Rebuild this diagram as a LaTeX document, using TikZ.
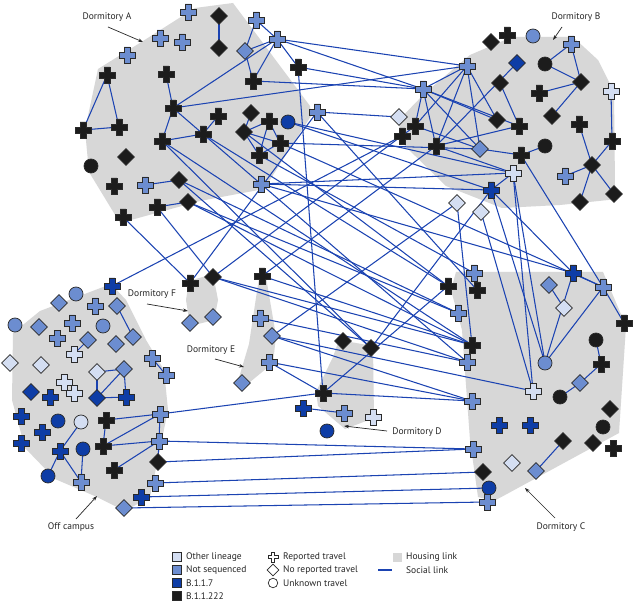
\documentclass[tikz,border=0pt]{standalone}
\usepackage{fontspec}
\setmainfont{PT Sans}
\usetikzlibrary{shapes.geometric,arrows.meta}
\definecolor{co}{HTML}{D4DEF2}
\definecolor{cn}{HTML}{6C8DD0}
\definecolor{cb}{HTML}{0E3DA6}
\definecolor{ck}{HTML}{1C1C1C}
\definecolor{outl}{HTML}{2A2A2A}
\definecolor{edgeblue}{HTML}{1B43B2}
\definecolor{housegray}{HTML}{D7D7D7}
\definecolor{txt}{HTML}{262626}
\pgfdeclarelayer{house}
\pgfdeclarelayer{edges}
\pgfsetlayers{house,edges,main}
\tikzset{
  hub/.style={inner sep=0pt,minimum size=1pt,draw=none},
  shp/.style={draw=outl,line width=0.7pt,line join=miter},
  dnode/.style={diamond,draw=outl,line width=0.7pt,inner sep=0pt,minimum size=17pt},
  cnode/.style={circle,draw=outl,line width=0.7pt,inner sep=0pt,minimum size=14pt},
  social/.style={draw=edgeblue,line width=1.05pt},
  house/.style={fill=housegray,draw=none},
  lbl/.style={font=\fontsize{9.5}{11}\selectfont,text=txt,inner sep=1pt},
  leg/.style={font=\fontsize{9.5}{11}\selectfont,text=txt,anchor=west,inner sep=1pt},
  arr/.style={-{Stealth[length=5pt,width=3.5pt]},line width=0.7pt,draw=black!85},
  legsq/.style={draw=outl,line width=0.7pt,minimum size=9pt,inner sep=0pt}
}
\newcommand\Pnode[3]{\node[hub] (#1) at (#2) {};
  \draw[shp,fill=#3,shift={(#2)}] (-2.9,-8) -- (2.9,-8) -- (2.9,-2.9) -- (8,-2.9) -- (8,2.9) -- (2.9,2.9) -- (2.9,8) -- (-2.9,8) -- (-2.9,2.9) -- (-8,2.9) -- (-8,-2.9) -- (-2.9,-2.9) -- cycle;}
\newcommand\Dnode[3]{\node[dnode,fill=#3] (#1) at (#2) {};}
\newcommand\Cnode[3]{\node[cnode,fill=#3] (#1) at (#2) {};}
\begin{document}
\begin{tikzpicture}[x=1pt,y=-1pt]
\useasboundingbox (0,0) rectangle (635,604);
% ---------------- housing links
\begin{pgfonlayer}{house}
\fill[white] (0,0) rectangle (635,604);
\fill[house] (143,41) -- (195,8) -- (233,3) -- (310,106) -- (311,116) -- (264,189) -- (200,201) -- (120,223) -- (89,172) -- (85,130) -- (98,69) -- cycle;
\fill[house] (398,121) -- (425,93) -- (470,55) -- (512,37) -- (573,37) -- (598,60) -- (614,92) -- (615,185) -- (618,199) -- (560,205) -- (502,208) -- (446,186) -- (405,146) -- cycle;
\fill[house] (456,272) -- (603,272) -- (626,326) -- (619,433) -- (494,501) -- (478,497) -- (470,440) -- (462,330) -- (451,290) -- cycle;
\fill[house] (13,333) -- (40,311) -- (111,284) -- (126,300) -- (146,340) -- (164,370) -- (168,410) -- (150,497) -- (125,511) -- (97,497) -- (55,479) -- (25,448) -- (12,400) -- cycle;
\fill[house] (189,281) -- (213,274) -- (218,300) -- (214,320) -- (190,326) -- (186,300) -- cycle;
\fill[house] (259,278) -- (266,277) -- (276,336) -- (273,363) -- (244,387) -- (238,381) -- (249,344) -- cycle;
\fill[house] (339,340) -- (373,346) -- (374,418) -- (345,429) -- (318,406) -- (316,392) -- (333,357) -- cycle;
\end{pgfonlayer}
% ---------------- Dormitory A
\Pnode{a1}{188,12}{cn}
\Pnode{a2}{160,38}{cn}
\Pnode{a3}{182,42}{cn}
\Pnode{a4}{127,55}{cn}
\Pnode{a5}{107,75}{ck}
\Pnode{a6}{166,74}{ck}
\Pnode{a7}{173,108}{ck}
\Pnode{a8}{83,130}{ck}
\Pnode{a9}{119,127}{ck}
\Pnode{a10}{162,141}{ck}
\Pnode{a11}{203,134}{ck}
\Pnode{a12}{218,116}{ck}
\Dnode{a13}{126,157}{ck}
\Cnode{a14}{91,166}{ck}
\Pnode{a15}{114,186}{ck}
\Pnode{a16}{145,185}{cn}
\Dnode{a17}{179,180}{ck}
\Pnode{a18}{157,207}{ck}
\Dnode{a19}{188,202}{ck}
\Pnode{a20}{123,217}{ck}
\Dnode{a21}{219,16}{ck}
\Dnode{a22}{219,48}{ck}
\Pnode{a23}{256,20}{cn}
\Pnode{a24}{277,39}{cn}
\Dnode{a25}{245,51}{cn}
\Pnode{a26}{298,67}{ck}
\Pnode{a27}{253,81}{ck}
\Dnode{a28}{251,113}{ck}
\Dnode{a29}{244,132}{ck}
\Pnode{a30}{269,121}{ck}
\Cnode{a31}{288,122}{cb}
\Pnode{a32}{280,143}{ck}
\Pnode{a33}{259,155}{ck}
\Pnode{a34}{261,184}{cn}
\Pnode{a35}{317,112}{cn}
% ---------------- Dormitory B
\Dnode{b1}{399,117}{co}
\Pnode{b2}{415,126}{ck}
\Pnode{b3}{402,136}{ck}
\Pnode{b4}{423,89}{cn}
\Pnode{b5}{467,66}{cn}
\Dnode{b6}{491,42}{ck}
\Pnode{b7}{507,35}{ck}
\Cnode{b8}{533,36}{cn}
\Pnode{b9}{571,44}{cn}
\Dnode{b10}{517,63}{cb}
\Cnode{b11}{545,64}{ck}
\Dnode{b12}{500,83}{ck}
\Dnode{b13}{581,82}{ck}
\Pnode{b14}{539,93}{ck}
\Pnode{b15}{611,91}{co}
\Dnode{b16}{552,116}{ck}
\Dnode{b17}{497,120}{ck}
\Pnode{b18}{519,126}{ck}
\Pnode{b19}{436,146}{ck}
\Dnode{b20}{480,149}{cn}
\Cnode{b21}{545,146}{ck}
\Pnode{b22}{521,155}{ck}
\Pnode{b23}{579,124}{ck}
\Pnode{b24}{612,141}{ck}
\Dnode{b25}{592,165}{ck}
\Pnode{b26}{513,173}{co}
\Pnode{b27}{565,176}{cn}
\Pnode{b28}{491,190}{cb}
\Dnode{b29}{457,203}{co}
\Dnode{b30}{481,212}{co}
\Dnode{b31}{580,202}{ck}
\Dnode{b32}{614,194}{ck}
% ---------------- Dormitory F
\Pnode{f1}{190,283}{ck}
\Dnode{f2}{213,277}{ck}
\Dnode{f3}{190,323}{cn}
\Dnode{f4}{213,317}{cn}
% ---------------- Dormitory E
\Pnode{e1}{262,276}{ck}
\Pnode{e2}{260,318}{cn}
\Dnode{e3}{272,336}{cn}
\Pnode{e4}{269,362}{cn}
\Dnode{e5}{242,383}{cn}
% ---------------- Dormitory D
\Dnode{d1}{343,341}{ck}
\Dnode{d2}{371,348}{ck}
\Pnode{d3}{323,393}{ck}
\Pnode{d4}{303,408}{cb}
\Pnode{d5}{344,413}{cn}
\Pnode{d6}{373,417}{co}
\Cnode{d7}{327,431}{cb}
% ---------------- Dormitory C
\Pnode{c1}{474,273}{cn}
\Pnode{c2}{448,286}{ck}
\Pnode{c3}{477,290}{ck}
\Pnode{c4}{458,313}{cn}
\Pnode{c5}{472,345}{ck}
\Pnode{c6}{467,362}{cn}
\Pnode{c7}{472,401}{cn}
\Pnode{c8}{573,273}{cb}
\Pnode{c9}{603,287}{cn}
\Dnode{c10}{549,285}{cn}
\Dnode{c11}{564,308}{co}
\Pnode{c12}{624,323}{ck}
\Cnode{c13}{545,363}{cn}
\Cnode{c14}{596,340}{ck}
\Pnode{c15}{601,364}{ck}
\Dnode{c16}{580,383}{cn}
\Cnode{c17}{560,397}{ck}
\Pnode{c18}{533,391}{co}
\Dnode{c19}{610,409}{ck}
\Cnode{c20}{603,427}{ck}
\Pnode{c21}{499,425}{cb}
\Pnode{c22}{530,425}{cb}
\Dnode{c23}{563,441}{ck}
\Dnode{c24}{593,443}{ck}
\Pnode{c25}{613,448}{ck}
\Pnode{c26}{473,449}{cn}
\Dnode{c27}{512,463}{co}
\Dnode{c28}{536,471}{cn}
\Dnode{c29}{483,472}{ck}
\Cnode{c30}{489,488}{cb}
\Pnode{c31}{487,502}{cn}
% ---------------- Off campus
\Pnode{o1}{112,286}{cb}
\Cnode{o2}{76,294}{cn}
\Dnode{o3}{59,303}{cn}
\Pnode{o4}{95,306}{cn}
\Dnode{o5}{117,306}{cn}
\Cnode{o6}{15,325}{cn}
\Dnode{o7}{39,327}{cn}
\Pnode{o8}{72,323}{cn}
\Cnode{o9}{103,326}{cn}
\Pnode{o10}{57,338}{cn}
\Dnode{o11}{88,340}{cn}
\Dnode{o12}{133,337}{cn}
\Dnode{o13}{116,344}{cn}
\Pnode{o14}{74,354}{co}
\Dnode{o15}{10,363}{co}
\Dnode{o16}{41,365}{co}
\Pnode{o17}{152,358}{cn}
\Pnode{o18}{166,375}{cn}
\Dnode{o19}{97,372}{co}
\Dnode{o20}{124,369}{cn}
\Pnode{o21}{64,382}{co}
\Pnode{o22}{74,393}{co}
\Dnode{o23}{31,392}{cb}
\Pnode{o24}{50,397}{cb}
\Dnode{o25}{97,398}{cb}
\Pnode{o26}{126,397}{cb}
\Pnode{o27}{21,416}{cb}
\Cnode{o28}{58,421}{cb}
\Cnode{o29}{81,422}{co}
\Pnode{o30}{42,432}{cb}
\Pnode{o31}{21,443}{cb}
\Pnode{o32}{60,451}{cb}
\Cnode{o33}{83,449}{cb}
\Cnode{o34}{48,476}{cb}
\Pnode{o35}{81,482}{cn}
\Pnode{o36}{106,420}{ck}
\Pnode{o37}{103,446}{ck}
\Pnode{o38}{114,470}{ck}
\Pnode{o39}{160,414}{cn}
\Pnode{o40}{159,441}{cn}
\Dnode{o41}{158,462}{ck}
\Pnode{o42}{155,483}{cn}
\Pnode{o43}{141,497}{cb}
\Dnode{o44}{124,508}{cn}
% ---------------- social links
\begin{pgfonlayer}{edges}
\foreach \p/\q in {a5/a8,a5/a9,a8/a9,a6/a7,a7/a10,a7/a11,a10/a11,a11/a12,a16/a17,a18/a19,a21/a22,
  a23/a25,a23/a24,a25/a24,a25/a27,a24/a27,a24/a26,a28/a29,a29/a30,a29/a32,a29/a33,a30/a32,a30/a33,a32/a33,a24/a7,
  b5/b4,b5/b2,b5/b19,b5/b20,b5/b17,b4/b2,b4/b19,b4/b20,b4/b17,b4/b18,b2/b20,b19/b18,b19/b10,b12/b18,b20/b22,b22/b21,
  b9/b11,b9/b13,b11/b13,b14/b13,b16/b13,b15/b24,b23/b25,b24/b25,b27/b25,b31/b25,b32/b25,b26/b28,b19/b26,
  a7/b5,a24/b5,a24/b4,a27/b4,a26/b4,a26/d3,a35/b1,a35/f1,a35/c3,a31/b26,a31/b28,a34/b26,a34/b28,a34/c8,
  a10/d2,a10/c5,a11/c2,a11/c6,a17/c4,a17/d2,a18/f2,a19/c4,a19/c5,a20/f1,a29/c2,a32/b20,a32/c9,a33/c1,
  b3/o1,b2/f2,b19/e1,b29/e3,b29/c5,b30/c18,b22/c9,b26/c13,b26/c18,b28/c13,b28/c8,b28/d2,
  f2/c6,f2/c5,e1/c5,e2/c6,e3/c18,e3/c7,e4/c7,e4/d3,c2/d3,d3/c7,
  o39/d3,o40/c26,o41/c26,o42/c29,o43/c30,o44/c31,
  c8/c9,c8/c13,c9/c13,c9/c12,c10/c11,c14/c15,c15/c16,c16/c17,c23/c28,d4/d5,
  o5/o12,o11/o14,o17/o18,o19/o20,o19/o25,o20/o25,o20/o26,o25/o26,o36/o39,o36/o37,o37/o39,o37/o40,o38/o40,o39/o40,o40/o41,
  o29/o32,o32/o34,o32/o35,o33/o35}
  \draw[social] (\p.center) -- (\q.center);
\end{pgfonlayer}
% ---------------- labels
\node[lbl] (lA) at (107,17) {Dormitory A};
\coordinate (sA) at (108,27); \coordinate (tA) at (143,42);
\draw[arr] (sA) -- (tA);
\node[lbl] (lB) at (576,17) {Dormitory B};
\coordinate (sB) at (562,27); \coordinate (tB) at (553,40);
\draw[arr] (sB) -- (tB);
\node[lbl] (lF) at (152,294) {Dormitory F};
\coordinate (sF) at (147,304); \coordinate (tF) at (188,311);
\draw[arr] (sF) -- (tF);
\node[lbl] (lE) at (211,350) {Dormitory E};
\coordinate (sE) at (215,359); \coordinate (tE) at (244,367);
\draw[arr] (sE) -- (tE);
\node[lbl] (lD) at (417,432) {Dormitory D};
\coordinate (sD) at (387,431); \coordinate (tD) at (344,426);
\draw[arr] (sD) -- (tD);
\node[lbl] (lC) at (561,527) {Dormitory C};
\coordinate (sC) at (555,518); \coordinate (tC) at (525,488);
\draw[arr] (sC) -- (tC);
\node[lbl] (lO) at (71,527) {Off campus};
\coordinate (sO) at (76,519); \coordinate (tO) at (97,496);
\draw[arr] (sO) -- (tO);
% ---------------- legend
\node[legsq,fill=co] (k1) at (177,557) {};
\node[leg] at (185,557) {Other lineage};
\node[legsq,fill=cn] (k2) at (177,570) {};
\node[leg] at (185,570) {Not sequenced};
\node[legsq,fill=cb] (k3) at (177,583) {};
\node[leg] at (185,583) {B.1.1.7};
\node[legsq,fill=ck] (k4) at (177,596) {};
\node[leg] at (185,596) {B.1.1.222};
\node[hub] (k5) at (273,557) {};
\draw[shp,fill=white,shift={(273,557)},scale=0.62] (-2.9,-8) -- (2.9,-8) -- (2.9,-2.9) -- (8,-2.9) -- (8,2.9) -- (2.9,2.9) -- (2.9,8) -- (-2.9,8) -- (-2.9,2.9) -- (-8,2.9) -- (-8,-2.9) -- (-2.9,-2.9) -- cycle;
\node[leg] at (282,557) {Reported travel};
\node[dnode,fill=white,minimum size=12pt] (k6) at (273,570) {};
\node[leg] at (282,570) {No reported travel};
\node[cnode,fill=white,minimum size=9.5pt] (k7) at (273,583) {};
\node[leg] at (282,583) {Unknown travel};
\node[minimum size=9pt,inner sep=0pt,fill=housegray] (k8) at (397,557) {};
\node[leg] at (405,557) {Housing link};
\coordinate (k9) at (378,570); \coordinate (k10) at (392,570);
\draw[social] (k9) -- (k10);
\node[leg] at (405,570) {Social link};
\end{tikzpicture}
\end{document}
